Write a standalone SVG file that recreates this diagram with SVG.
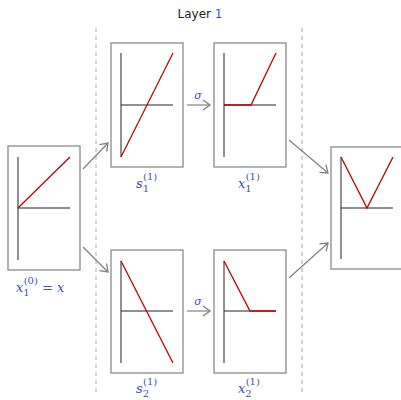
<svg xmlns="http://www.w3.org/2000/svg" width="401" height="400" viewBox="0 0 401 400">
<defs>
<marker id="ah" markerWidth="12" markerHeight="12" refX="8" refY="6" orient="auto" markerUnits="userSpaceOnUse">
<path d="M1,1 L8,6 L1,11" fill="none" stroke="#808080" stroke-width="1.3"/>
</marker>
</defs>
<style>
.box{fill:#fff;stroke:#8a8a8a;stroke-width:1.3}
.ax{stroke:#222;stroke-width:1;fill:none}
.fn{stroke:#c00000;stroke-width:1.3;fill:none}
.con{stroke:#808080;stroke-width:1.2;fill:none}
.dash{stroke:#aaa;stroke-width:1;stroke-dasharray:4,4}
.lbl{font-family:"DejaVu Serif","Liberation Serif",serif;font-style:italic;font-size:13px;fill:#3a4fc4}
.sub{font-size:10px;font-style:normal}
.ttl{font-family:"DejaVu Sans","Liberation Sans",sans-serif;font-size:12px;fill:#222}
</style>
<text class="ttl" x="200" y="18" text-anchor="middle">Layer <tspan fill="#3a4fc4">1</tspan></text>
<g id="dividers">
<line class="dash" x1="96" y1="28" x2="96" y2="392"/>
<line class="dash" x1="302" y1="28" x2="302" y2="392"/>
</g>
<g id="connectors">
<line class="con" x1="83" y1="169" x2="108" y2="143" marker-end="url(#ah)"/>
<line class="con" x1="83" y1="247" x2="108" y2="272" marker-end="url(#ah)"/>
<line class="con" x1="187" y1="105" x2="210" y2="105" marker-end="url(#ah)"/>
<line class="con" x1="187" y1="311" x2="210" y2="311" marker-end="url(#ah)"/>
<line class="con" x1="289" y1="140" x2="328" y2="173" marker-end="url(#ah)"/>
<line class="con" x1="289" y1="278" x2="328" y2="243" marker-end="url(#ah)"/>
<text class="lbl" x="198" y="99" text-anchor="middle" style="font-size:11px">σ</text>
<text class="lbl" x="198" y="305" text-anchor="middle" style="font-size:11px">σ</text>
</g>
<g id="input">
<rect class="box" x="8" y="146" width="72" height="124"/>
<line class="ax" x1="18" y1="157" x2="18" y2="260"/>
<line class="ax" x1="18" y1="208" x2="70" y2="208"/>
<line class="fn" x1="18" y1="208" x2="70" y2="157"/>
<text class="lbl" x="16" y="292">x<tspan class="sub" dy="4">1</tspan><tspan class="sub" dx="-6" dy="-12">(0)</tspan><tspan dy="8" style="font-style:normal"> = </tspan>x</text>
</g>
<g id="s1">
<rect class="box" x="111" y="43" width="72" height="124"/>
<line class="ax" x1="121" y1="53" x2="121" y2="157"/>
<line class="ax" x1="121" y1="105" x2="173" y2="105"/>
<line class="fn" x1="121" y1="157" x2="173" y2="53"/>
<text class="lbl" x="136" y="188">s<tspan class="sub" dy="4">1</tspan><tspan class="sub" dx="-6" dy="-12">(1)</tspan></text>
</g>
<g id="x1">
<rect class="box" x="214" y="43" width="72" height="124"/>
<line class="ax" x1="224" y1="53" x2="224" y2="157"/>
<line class="ax" x1="224" y1="105" x2="276" y2="105"/>
<polyline class="fn" points="224,105 251,105 276,53"/>
<text class="lbl" x="238" y="188">x<tspan class="sub" dy="4">1</tspan><tspan class="sub" dx="-6" dy="-12">(1)</tspan></text>
</g>
<g id="s2">
<rect class="box" x="111" y="250" width="72" height="123"/>
<line class="ax" x1="121" y1="261" x2="121" y2="363"/>
<line class="ax" x1="121" y1="311" x2="173" y2="311"/>
<line class="fn" x1="121" y1="261" x2="173" y2="363"/>
<text class="lbl" x="136" y="393">s<tspan class="sub" dy="4">2</tspan><tspan class="sub" dx="-6" dy="-12">(1)</tspan></text>
</g>
<g id="x2">
<rect class="box" x="214" y="250" width="72" height="123"/>
<line class="ax" x1="224" y1="261" x2="224" y2="363"/>
<line class="ax" x1="224" y1="311" x2="276" y2="311"/>
<polyline class="fn" points="224,261 250,311 276,311"/>
<text class="lbl" x="238" y="393">x<tspan class="sub" dy="4">2</tspan><tspan class="sub" dx="-6" dy="-12">(1)</tspan></text>
</g>
<g id="output">
<rect class="box" x="331" y="147" width="72" height="122"/>
<line class="ax" x1="341" y1="157" x2="341" y2="259"/>
<line class="ax" x1="341" y1="208" x2="393" y2="208"/>
<polyline class="fn" points="341,157 367,208 393,157"/>
</g>
</svg>
